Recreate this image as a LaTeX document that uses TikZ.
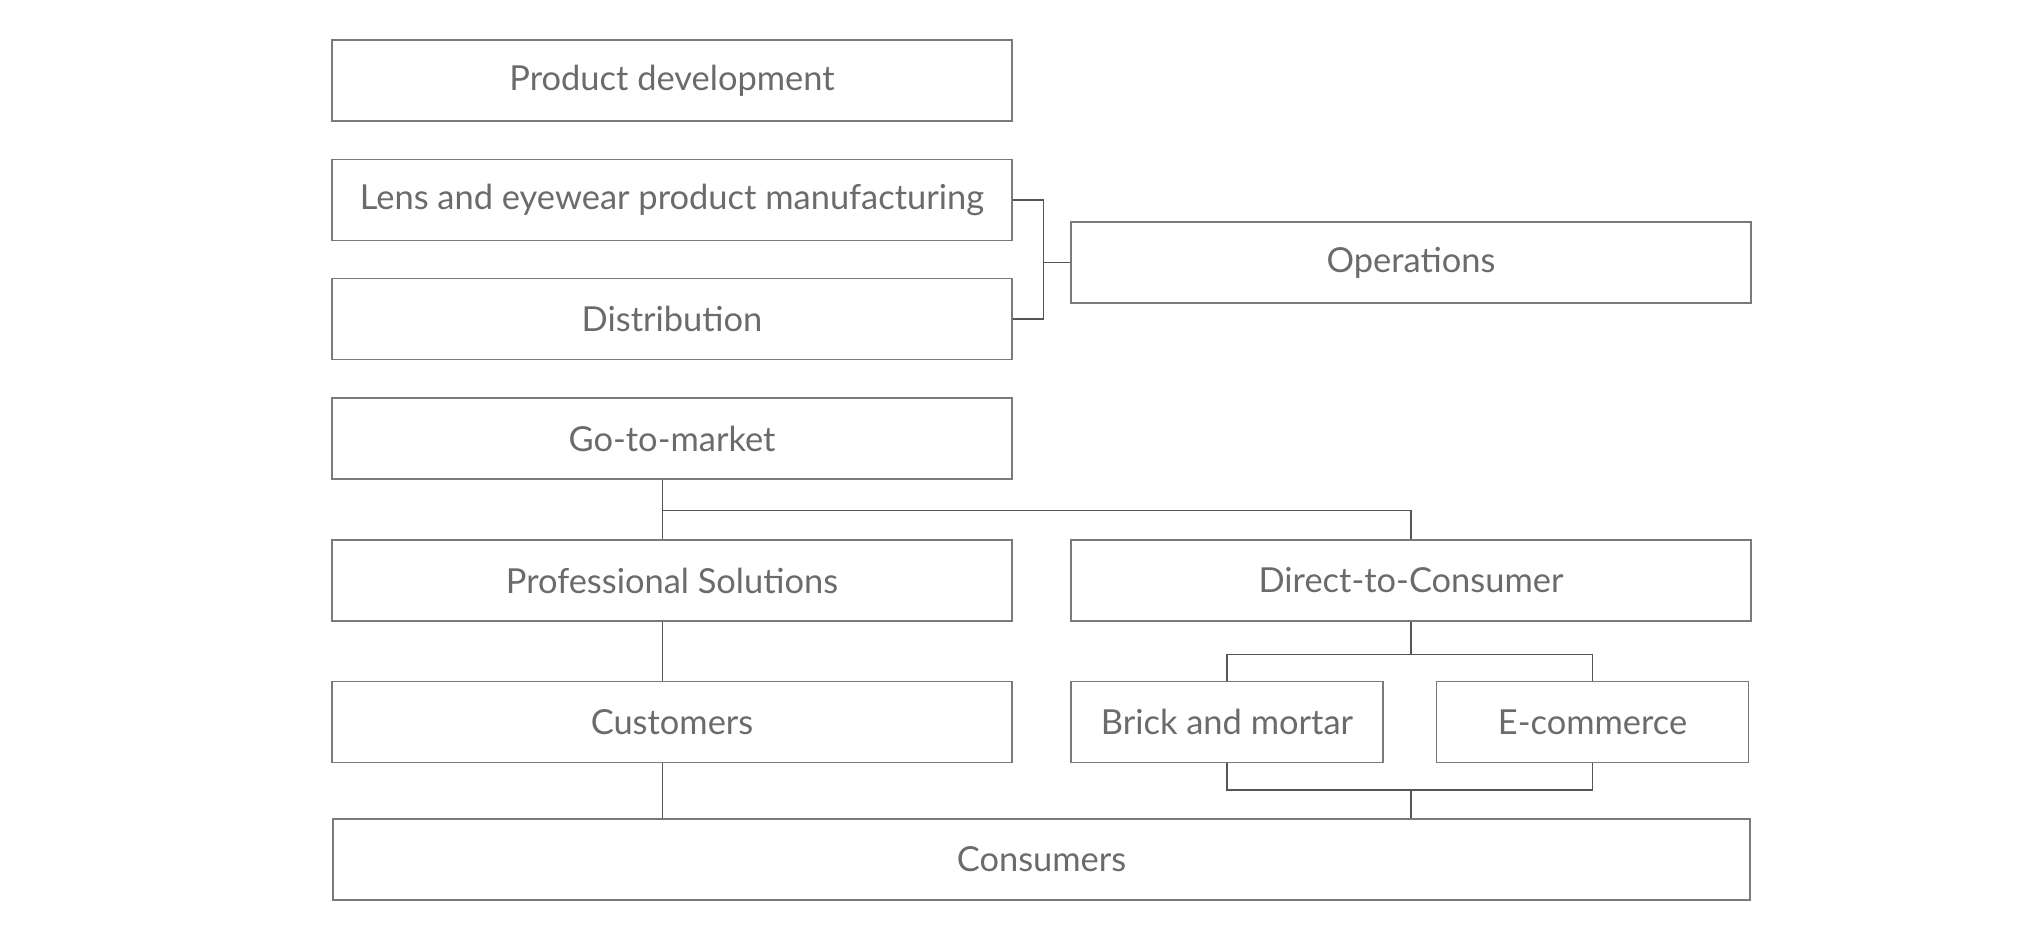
\documentclass[tikz,border=0pt]{standalone}
\usepackage{fontspec}
\setmainfont{Lato}
\usepackage{tikz}

\definecolor{boxgray}{HTML}{7A7A7A}
\definecolor{textgray}{HTML}{6B6B6B}
\definecolor{linegray}{HTML}{555555}

\tikzset{
	unitbox/.style={draw=boxgray, line width=1.1pt, text=textgray, minimum width=13.6cm, minimum height=1.62cm, inner sep=0pt, font=\fontsize{19.6}{22}\selectfont},
	smallbox/.style={unitbox, minimum width=6.24cm},
	link/.style={draw=linegray, line width=0.6pt}
}

\begin{document}
\begin{tikzpicture}
		% Frame of the page
		\useasboundingbox (0, 0) rectangle (40.5, 18.84);

		% Boxes, left column
		\node[unitbox] (dev) at (13.44, 17.23) {Product development};
		\node[unitbox] (manuf) at (13.44, 14.84) {Lens and eyewear product manufacturing};
		\node[unitbox] (distr) at (13.44, 12.46) {Distribution};
		\node[unitbox] (gtm) at (13.44, 10.07) {Go-to-market};
		\node[unitbox] (prof) at (13.44, 7.23) {Professional Solutions};
		\node[unitbox] (cust) at (13.44, 4.40) {Customers};

		% Boxes, right column
		\node[unitbox] (ops) at (28.22, 13.59) {Operations};
		\node[unitbox] (dtc) at (28.22, 7.23) {Direct-to-Consumer};
		\node[smallbox] (brick) at (24.54, 4.40) {Brick and mortar};
		\node[smallbox] (ecom) at (31.85, 4.40) {E-commerce};

		% Bottom box
		\node[unitbox, minimum width=28.34cm] (cons) at (20.83, 1.65) {Consumers};

		% Bracket to operations
		\coordinate (opsjoin) at (20.87, 13.59);
		\draw[link] (manuf.east) -| (opsjoin) |- (distr.east);
		\draw[link] (opsjoin) -- (ops.west);

		% Go-to-market tree
		\coordinate (gtmfoot) at ([xshift=-0.19cm]gtm.south);
		\coordinate (gtmjoin) at ([xshift=-0.19cm, yshift=-0.62cm]gtm.south);
		\draw[link] (gtmfoot) -- (gtmfoot |- prof.north);
		\draw[link] (gtmjoin) -| (dtc.north);
		\draw[link] (gtmfoot |- prof.south) -- (gtmfoot |- cust.north);
		\draw[link] (gtmfoot |- cust.south) -- (gtmfoot |- cons.north);

		% Direct-to-consumer split
		\coordinate (dtcjoin) at ([yshift=-0.65cm]dtc.south);
		\draw[link] (dtc.south) -- (dtcjoin);
		\draw[link] (brick.north) |- (dtcjoin) -| (ecom.north);

		% Back together to consumers
		\coordinate (consjoin) at (dtc.south |- 0, 3.04);
		\draw[link] (brick.south) |- (consjoin) -| (ecom.south);
		\draw[link] (consjoin) -- (consjoin |- cons.north);
	\end{tikzpicture}
\end{document}
